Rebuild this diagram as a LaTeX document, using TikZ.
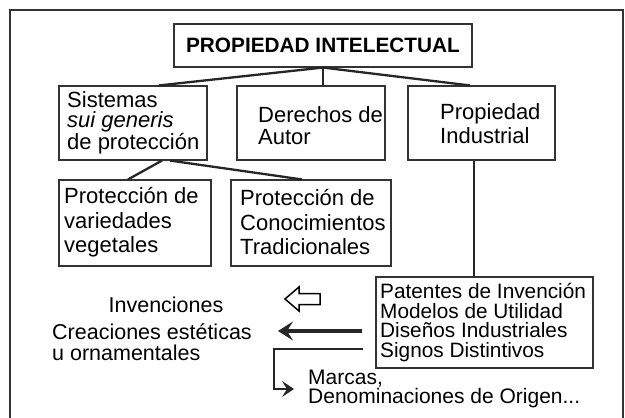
\documentclass[tikz,border=0pt]{standalone}
\usepackage{fontspec}
\setmainfont{Liberation Sans}
\usetikzlibrary{arrows.meta}

\begin{document}
\begin{tikzpicture}[x=1pt,y=-1pt,
  box/.style={draw=black!80,line width=1.1pt,inner sep=0pt},
  txt/.style={align=left,inner sep=0pt,anchor=west},
  link/.style={line width=2.3pt,black!85},
  frame/.style={line width=2.4pt,black!80},
  bigbarb/.style={-{Stealth[length=15pt,width=19pt,inset=6pt]}},
  smallbarb/.style={-{Stealth[length=12pt,width=16pt,inset=5pt]}}]
\useasboundingbox (0,0) rectangle (625,418);
\draw[frame] (10,430) -- (10,10) -- (623,10) -- (623,430);
% boxes
\node[box,minimum width=298pt,minimum height=43pt,font=\bfseries\fontsize{20.8}{24}\selectfont] (pi) at (323,45.5) {PROPIEDAD INTELECTUAL};
\node[box,minimum width=148pt,minimum height=74pt] (sis) at (133,123) {};
\node[txt,font=\fontsize{22}{20}\selectfont] (sistxt) at (67,123) {Sistemas\\\textit{sui generis}\\de protección};
\node[box,minimum width=148pt,minimum height=74pt] (der) at (311,123) {};
\node[txt,font=\fontsize{22}{22}\selectfont] (dertxt) at (258,126) {Derechos de\\Autor};
\node[box,minimum width=147pt,minimum height=74pt] (pro) at (481.5,123) {};
\node[txt,font=\fontsize{22}{24}\selectfont] (protxt) at (440,124) {Propiedad\\Industrial};
\node[box,minimum width=152pt,minimum height=86pt] (veg) at (135,223) {};
\node[txt,font=\fontsize{22}{24.5}\selectfont] (vegtxt) at (64,222.5) {Protección de\\variedades\\vegetales};
\node[box,minimum width=160pt,minimum height=86pt] (con) at (311,223) {};
\node[txt,font=\fontsize{22}{24.5}\selectfont] (contxt) at (240,222.5) {Protección de\\Conocimientos\\Tradicionales};
\node[box,minimum width=217pt,minimum height=91pt] (pat) at (484.5,322.5) {};
\node[txt,font=\fontsize{20.8}{19.5}\selectfont] (pattxt) at (380,322.5) {Patentes de Invención\\Modelos de Utilidad\\Diseños Industriales\\Signos Distintivos};
% free texts
\node[inner sep=0pt,font=\fontsize{21.5}{21}\selectfont] (inv) at (166,305) {Invenciones};
\node[txt,font=\fontsize{21.5}{21}\selectfont] (crea) at (52,342.5) {Creaciones estéticas\\u ornamentales};
\node[txt,font=\fontsize{21}{19}\selectfont] (marc) at (308,389) {Marcas,\\Denominaciones de Origen...};
% tree lines
\draw[link] (pi.south) -- ([xshift=26pt]sis.north);
\draw[link] (pi.south) -- (pi.south |- der.north);
\draw[link] (pi.south) -- ([xshift=-11.5pt]pro.north);
\draw[link] ([xshift=29pt]sis.south) -- ([xshift=-7pt]veg.north);
\draw[link] ([xshift=37pt]sis.south) -- ([xshift=-9pt]con.north);
\draw[link] ([xshift=-7.5pt]pro.south) -- ([xshift=-7.5pt]pro.south |- pat.north);
% arrows
\draw[line width=1.5pt,line join=miter] (320,293.5) -- (299,293.5) -- (299,287) -- (285,299) -- (299,311) -- (299,304.5) -- (320,304.5) -- cycle;
\coordinate (dis) at (362,331);
\coordinate (disend) at (278,331);
\draw[link,line width=3.8pt,bigbarb] (dis) -- (disend);
\coordinate (sig) at (363,349);
\coordinate (marcend) at (294,389);
\draw[link,line width=2.6pt,smallbarb] (sig) -- ++(-89,0) |- (marcend);
\end{tikzpicture}
\end{document}
